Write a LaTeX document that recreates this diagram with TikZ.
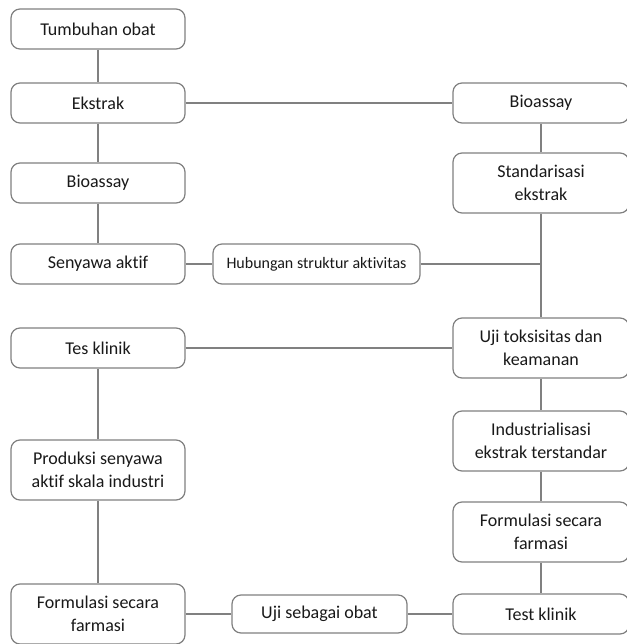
\documentclass[tikz,border=0pt]{standalone}
\usepackage{fontspec}
\setmainfont{Carlito}[Ligatures=NoCommon]
\usepackage{tikz}
\usetikzlibrary{positioning,calc}

\definecolor{boxline}{RGB}{128,128,128}
\definecolor{textcol}{RGB}{25,25,25}

\begin{document}
\begin{tikzpicture}[x=1pt,y=-1pt,
    box/.style={draw=boxline, line width=1.2pt, rounded corners=9pt, fill=white,
        text=textcol, align=center, minimum width=174pt, minimum height=40pt,
        inner sep=2pt, font=\fontsize{18}{23}\selectfont},
    tallbox/.style={box, minimum height=60pt},
    smallbox/.style={box, font=\fontsize{16}{20}\selectfont},
    link/.style={draw=boxline, line width=1.3pt}]
    \useasboundingbox (0,0) rectangle (626,644);
    % Left column
    \node[box] (tumbuhan) at (98,29) {Tumbuhan obat};
    \node[box] (ekstrak) at (98,103) {Ekstrak};
    \node[box] (bioL) at (98,183) {Bioassay};
    \node[box] (senyawa) at (98,264) {Senyawa aktif};
    \node[box] (tesklinik) at (98,348) {Tes klinik};
    \node[tallbox] (produksi) at (98,470) {Produksi senyawa\\aktif skala industri};
    \node[tallbox] (formL) at (98,614) {Formulasi secara\\farmasi};
    % Middle
    \node[smallbox, minimum width=207pt] (hubungan) at (316.5,264) {Hubungan struktur aktivitas};
    \node[box, minimum width=175pt, minimum height=38pt] (ujiobat) at (319.5,614) {Uji sebagai obat};
    % Right column
    \node[box, minimum width=176pt] (bioR) at (541,103) {Bioassay};
    \node[tallbox, minimum width=176pt] (standar) at (541,183) {Standarisasi\\ekstrak};
    \node[tallbox, minimum width=176pt] (ujitoks) at (541,348) {Uji toksisitas dan\\keamanan};
    \node[tallbox, minimum width=176pt] (industri) at (541,441) {Industrialisasi\\ekstrak terstandar};
    \node[tallbox, minimum width=176pt] (formR) at (541,532) {Formulasi secara\\farmasi};
    \node[box, minimum width=176pt] (testklinik) at (541,614) {Test klinik};
    \coordinate (join) at (standar.south |- hubungan.east);
    % Connectors
    \draw[link] (tumbuhan) -- (ekstrak);
    \draw[link] (ekstrak) -- (bioL);
    \draw[link] (bioL) -- (senyawa);
    \draw[link] (senyawa) -- (hubungan);
    \draw[link] (hubungan) -- (join);
    \draw[link] (ekstrak) -- (bioR);
    \draw[link] (bioR) -- (standar);
    \draw[link] (standar) -- (ujitoks);
    \draw[link] (tesklinik) -- (ujitoks);
    \draw[link] (tesklinik) -- (produksi);
    \draw[link] (produksi) -- (formL);
    \draw[link] (formL) -- (ujiobat);
    \draw[link] (ujiobat) -- (testklinik);
    \draw[link] (ujitoks) -- (industri);
    \draw[link] (industri) -- (formR);
    \draw[link] (formR) -- (testklinik);
\end{tikzpicture}
\end{document}
